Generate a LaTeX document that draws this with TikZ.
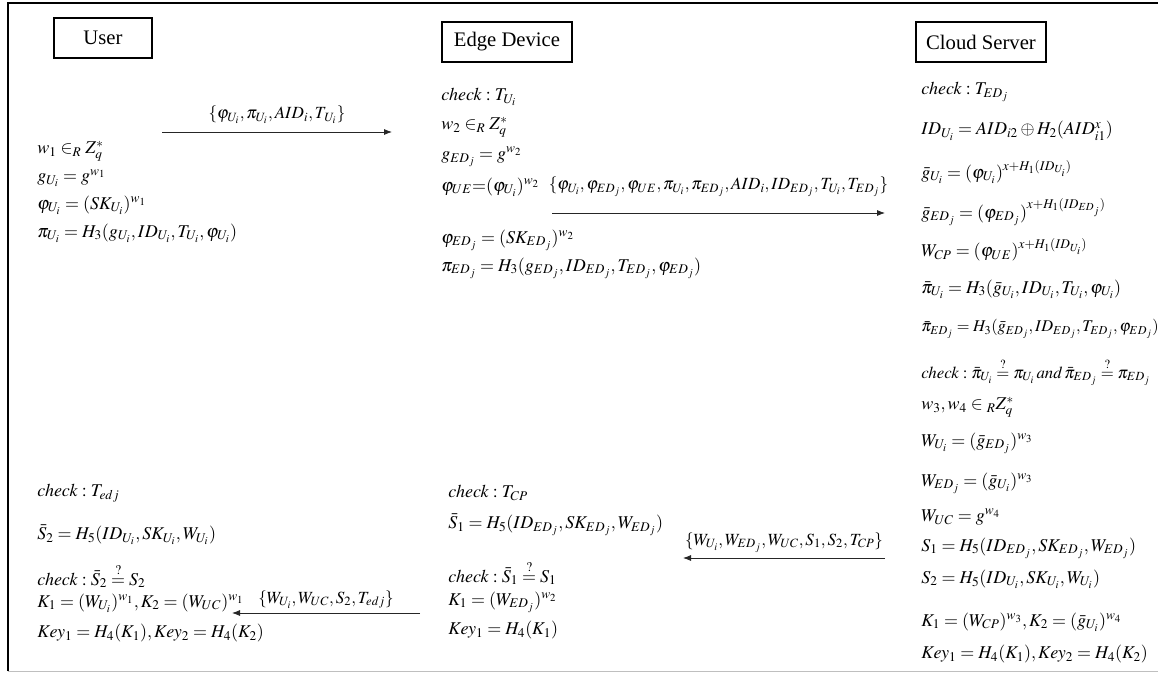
\documentclass[tikz,border=0pt]{standalone}
\usepackage{amsmath}
\usepackage{mathptmx}
\usepackage{fontspec}
\setmainfont{Liberation Serif}
\usetikzlibrary{arrows.meta}
\begin{document}
\begin{tikzpicture}[x=0.75pt,y=-0.75pt,
  eq/.style={anchor=west,inner sep=0pt,font=\fontsize{13.5}{16}\selectfont},
  eqn/.style={eq,font=\fontsize{12.6}{15}\selectfont},
  eqs/.style={eq,font=\fontsize{12.3}{15}\selectfont},
  lbl/.style={inner sep=0pt,font=\fontsize{12.8}{16}\selectfont},
  party/.style={draw,line width=0.8pt,inner sep=0pt,minimum height=30pt,font=\fontsize{15.5}{18}\selectfont},
  msg/.style={-{Latex[length=6pt,width=4.5pt]},line width=0.6pt,draw=black!85},
  frame/.style={line width=0.8pt}]
\useasboundingbox (0,0) rectangle (1158,675);
\coordinate (ftl) at (8,3);
\coordinate (ftr) at (1158,3);
\coordinate (fbl) at (8,671);
\coordinate (fbr) at (1158,671);
\draw[frame] (fbl) -- (ftl) -- (ftr);
\draw[black!25,line width=0.6pt] (fbl) -- (fbr);
% parties
\node[party,minimum width=73.5pt] (user) at (103,38) {User};
\node[party,minimum width=97.5pt] (edge) at (507,42) {Edge Device};
\node[party,minimum width=97.5pt] (cloud) at (981,42) {Cloud Server};
% user, first part
\node[eq] (u1) at (37,151) {$w_1 \in_R Z_q^*$};
\node[eq] (u2) at (37,178) {$g_{U_i} = g^{w_1}$};
\node[eq] (u3) at (37,205) {$\varphi_{U_i} = (SK_{U_i})^{w_1}$};
\node[eq] (u4) at (37,233) {$\pi_{U_i} = H_3(g_{U_i}, ID_{U_i}, T_{U_i}, \varphi_{U_i})$};
% edge, first part
\node[eq] (e1) at (441,97) {$check : T_{U_i}$};
\node[eq] (e2) at (441,127) {$w_2 \in_R Z_q^*$};
\node[eq] (e3) at (441,157) {$g_{ED_j} = g^{w_2}$};
\node[eq] (e4) at (441,187) {$\varphi_{UE}{=}(\varphi_{U_i})^{w_2}$};
\node[eq] (e5) at (441,240) {$\varphi_{ED_j} = (SK_{ED_j})^{w_2}$};
\node[eq] (e6) at (441,268) {$\pi_{ED_j} = H_3(g_{ED_j}, ID_{ED_j}, T_{ED_j}, \varphi_{ED_j})$};
% cloud
\node[eq] (c1) at (921,92) {$check : T_{ED_j}$};
\node[eq] (c2) at (921,131) {$ID_{U_i} = AID_{i2} \oplus H_2(AID_{i1}^x)$};
\node[eq] (c3) at (921,172) {$\bar{g}_{U_i} = (\varphi_{U_i})^{x+H_1(ID_{U_i})}$};
\node[eq] (c4) at (921,212) {$\bar{g}_{ED_j} = (\varphi_{ED_j})^{x+H_1(ID_{ED_j})}$};
\node[eq] (c5) at (921,250) {$W_{CP} = (\varphi_{UE})^{x+H_1(ID_{U_i})}$};
\node[eq] (c6) at (921,289) {$\bar{\pi}_{U_i} = H_3(\bar{g}_{U_i}, ID_{U_i}, T_{U_i}, \varphi_{U_i})$};
\node[eqs] (c7) at (921,329) {$\bar{\pi}_{ED_j} = H_3(\bar{g}_{ED_j}, ID_{ED_j}, T_{ED_j}, \varphi_{ED_j})$};
\node[eqn] (c8) at (921,372) {$check : \bar{\pi}_{U_i} \overset{?}{=} \pi_{U_i}\,and\, \bar{\pi}_{ED_j} \overset{?}{=} \pi_{ED_j}$};
\node[eq] (c9) at (921,407) {$w_3, w_4 \in {}_R Z_q^*$};
\node[eq] (c10) at (921,443) {$W_{U_i} = (\bar{g}_{ED_j})^{w_3}$};
\node[eq] (c11) at (921,483) {$W_{ED_j} = (\bar{g}_{U_i})^{w_3}$};
\node[eq] (c12) at (921,517) {$W_{UC} = g^{w_4}$};
\node[eq] (c13) at (921,548) {$S_1 = H_5(ID_{ED_j}, SK_{ED_j}, W_{ED_j})$};
\node[eq] (c14) at (921,579) {$S_2 = H_5(ID_{U_i}, SK_{U_i}, W_{U_i})$};
\node[eq] (c15) at (921,622) {$K_1 = (W_{CP})^{w_3}, K_2 = (\bar{g}_{U_i})^{w_4}$};
\node[eq] (c16) at (921,654) {$Key_1 = H_4(K_1), Key_2 = H_4(K_2)$};
% edge, second part
\node[eq] (m1) at (448,493) {$check : T_{CP}$};
\node[eq] (m2) at (448,525) {$\bar{S}_1 = H_5(ID_{ED_j}, SK_{ED_j}, W_{ED_j})$};
\node[eq] (m3) at (448,573) {$check : \bar{S}_1 \overset{?}{=} S_1$};
\node[eq] (m4) at (448,602) {$K_1 = (W_{ED_j})^{w_2}$};
\node[eq] (m5) at (448,630) {$Key_1 = H_4(K_1)$};
% user, second part
\node[eq] (b1) at (37,493) {$check : T_{edj}$};
\node[eq] (b2) at (37,535) {$\bar{S}_2 = H_5(ID_{U_i}, SK_{U_i}, W_{U_i})$};
\node[eq] (b3) at (37,576) {$check : \bar{S}_2 \overset{?}{=} S_2$};
\node[eq] (b4) at (37,603) {$K_1 = (W_{U_i})^{w_1}, K_2 = (W_{UC})^{w_1}$};
\node[eq] (b5) at (37,633) {$Key_1 = H_4(K_1), Key_2 = H_4(K_2)$};
% messages
\coordinate (a1s) at (162,132); \coordinate (a1e) at (392,132);
\coordinate (a2s) at (552,213); \coordinate (a2e) at (885,213);
\coordinate (a3s) at (885,558); \coordinate (a3e) at (683,558);
\coordinate (a4s) at (420,613); \coordinate (a4e) at (232,613);
\draw[msg] (a1s) -- node[lbl,above=6pt] (l1) {$\{\varphi_{U_i}, \pi_{U_i}, AID_i, T_{\,U_i}\}$} (a1e);
\draw[msg] (a2s) -- node[lbl,above=12pt] (l2) {$\{\varphi_{U_i}, \varphi_{ED_j}, \varphi_{UE}, \pi_{U_i}, \pi_{ED_j}, AID_i, ID_{ED_j}, T_{U_i}, T_{ED_j}\}$} (a2e);
\draw[msg] (a3s) -- node[lbl,above=4pt] (l3) {$\{W_{U_i}, W_{ED_j}, W_{UC}, S_1, S_2, T_{CP}\}$} (a3e);
\draw[msg] (a4s) -- node[lbl,above=3pt] (l4) {$\{W_{U_i}, W_{UC}, S_2, T_{edj}\}$} (a4e);
\end{tikzpicture}
\end{document}
